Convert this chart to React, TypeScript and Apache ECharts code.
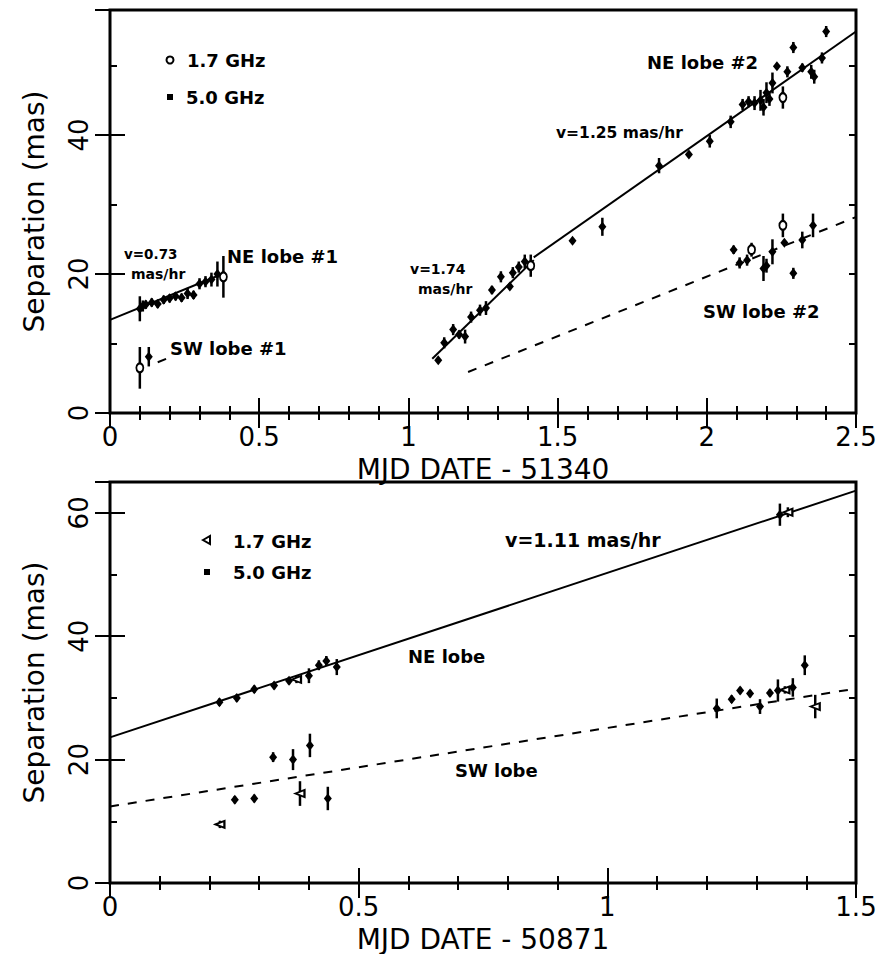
import React, { useEffect, useRef } from "react";
import * as echarts from "echarts";

// ---- Upper panel: days after MJD 51340 ----
// NE lobe #1
const ne1Date = [0.1, 0.11, 0.12, 0.14, 0.16, 0.18, 0.2, 0.22, 0.24, 0.26, 0.28, 0.3, 0.32, 0.34, 0.36, 0.38];
const ne1Sep = [15.0, 15.4, 15.6, 15.9, 15.7, 16.3, 16.5, 16.8, 16.6, 17.2, 17.0, 18.6, 18.9, 19.2, 20.0, 19.6];
const ne1Err = [1.8, 0.8, 0.6, 0.6, 0.6, 0.6, 0.6, 0.6, 0.6, 0.8, 0.6, 0.8, 0.8, 1.0, 1.8, 3.0];
const ne1Band = [5, 5, 5, 5, 5, 5, 5, 5, 5, 5, 5, 5, 5, 5, 5, 1.7];

// SW lobe #1
const sw1Date = [0.1, 0.13];
const sw1Sep = [6.5, 8.1];
const sw1Err = [3.0, 1.4];
const sw1Band = [1.7, 5];

// NE lobe #2
const ne2Date = [
  1.1, 1.12, 1.15, 1.17, 1.19, 1.21, 1.24, 1.26, 1.28, 1.31, 1.34, 1.35, 1.37, 1.39, 1.41,
  1.55, 1.65, 1.84, 1.94, 2.01, 2.08,
  2.12, 2.14, 2.16, 2.18, 2.19, 2.2, 2.21, 2.22, 2.235, 2.255, 2.27, 2.29, 2.32, 2.35, 2.36, 2.386, 2.4,
];
const ne2Sep = [
  7.6, 10.1, 12.0, 11.3, 11.0, 13.8, 14.8, 15.1, 17.7, 19.6, 18.2, 20.2, 21.0, 21.8, 21.2,
  24.8, 26.8, 35.6, 37.2, 39.1, 41.9,
  44.4, 44.8, 44.6, 45.0, 44.0, 46.1, 45.2, 47.5, 49.9, 45.4, 49.1, 52.6, 49.7, 49.1, 48.4, 51.1, 54.9,
];
const ne2Err = [
  0, 0.8, 0.8, 0.6, 1.0, 0.8, 0.8, 1.0, 0.6, 0.8, 0.4, 0.8, 0.8, 1.0, 1.6,
  0, 1.3, 1.1, 0, 0.9, 0.9,
  0.8, 0.8, 1.0, 1.5, 1.2, 1.5, 1.0, 1.5, 0, 1.6, 0.8, 0.8, 0.6, 1.0, 1.0, 0.8, 0.8,
];
const ne2Band = [
  5, 5, 5, 5, 5, 5, 5, 5, 5, 5, 5, 5, 5, 5, 1.7,
  5, 5, 5, 5, 5, 5,
  5, 5, 5, 5, 5, 5, 5, 5, 5, 1.7, 5, 5, 5, 5, 5, 5, 5,
];

// SW lobe #2
const sw2Date = [2.09, 2.11, 2.135, 2.15, 2.19, 2.2, 2.22, 2.255, 2.26, 2.29, 2.32, 2.356];
const sw2Sep = [23.5, 21.6, 22.0, 23.5, 20.8, 21.2, 23.2, 27.0, 24.5, 20.1, 24.9, 27.0];
const sw2Err = [0.6, 0.8, 0.8, 1.0, 1.8, 1.0, 1.8, 1.7, 0, 0.8, 1.2, 1.7];
const sw2Band = [5, 5, 5, 1.7, 5, 5, 5, 1.7, 5, 5, 5, 5];

// Fitted motions, upper panel
const ne1FitDate = [0, 0.37];
const ne1FitSep = [13.4, 19.9];
const sw1FitDate = [0.16, 0.2];
const sw1FitSep = [7.3, 8.0];
const ne2FastFitDate = [1.08, 1.42];
const ne2FastFitSep = [7.8, 22.0];
const ne2SlowFitDate = [1.42, 2.5];
const ne2SlowFitSep = [22.4, 54.9];
const sw2FitDate = [1.2, 2.5];
const sw2FitSep = [5.9, 28.2];

// ---- Lower panel: days after MJD 50871 ----
const neDate = [0.22, 0.255, 0.29, 0.33, 0.36, 0.375, 0.4, 0.42, 0.435, 0.456, 1.347, 1.363];
const neSep = [29.3, 30.0, 31.4, 32.0, 32.8, 33.0, 33.6, 35.3, 36.0, 35.0, 59.7, 60.1];
const neErr = [0.6, 0.6, 0.6, 0.6, 0.6, 0.6, 1.2, 0.8, 0.8, 1.3, 1.8, 0.8];
const neBand = [5, 5, 5, 5, 5, 1.7, 5, 5, 5, 5, 5, 1.7];

const swDate = [
  0.221, 0.251, 0.29, 0.328, 0.368, 0.382, 0.402, 0.438,
  1.22, 1.25, 1.267, 1.287, 1.307, 1.327, 1.343, 1.357, 1.373, 1.397, 1.418,
];
const swSep = [
  9.5, 13.5, 13.7, 20.4, 20.0, 14.5, 22.3, 13.7,
  28.3, 29.8, 31.2, 30.7, 28.6, 30.8, 31.2, 31.3, 31.7, 35.3, 28.6,
];
const swErr = [
  0.6, 0.6, 0.6, 0.8, 1.7, 2.0, 1.9, 1.9,
  1.6, 0.6, 0.6, 0.6, 1.2, 0.6, 1.8, 0.6, 1.5, 1.6, 1.9,
];
const swBand = [
  1.7, 5, 5, 5, 5, 1.7, 5, 5,
  5, 5, 5, 5, 5, 5, 5, 1.7, 5, 5, 1.7,
];

const neFitDate = [0, 1.5];
const neFitSep = [23.6, 63.6];
const swFitDate = [0, 1.5];
const swFitSep = [12.4, 31.5];

// Axis ranges and tick labels
const upperDateTicks = ["0", "0.5", "1", "1.5", "2", "2.5"];
const lowerDateTicks = ["0", "0.5", "1", "1.5"];
const upperSepMax = 58;
const lowerSepMax = 65;

const FONT = "'DejaVu Sans', 'Noto Sans', sans-serif";
const INK = "#000";

type Group = { date: number[]; sep: number[]; err: number[]; band: number[] };

const upperGroups: Group[] = [
  { date: ne1Date, sep: ne1Sep, err: ne1Err, band: ne1Band },
  { date: sw1Date, sep: sw1Sep, err: sw1Err, band: sw1Band },
  { date: ne2Date, sep: ne2Sep, err: ne2Err, band: ne2Band },
  { date: sw2Date, sep: sw2Sep, err: sw2Err, band: sw2Band },
];
const lowerGroups: Group[] = [
  { date: neDate, sep: neSep, err: neErr, band: neBand },
  { date: swDate, sep: swSep, err: swErr, band: swBand },
];

function pointsOf(groups: Group[], band: number) {
  const out: number[][] = [];
  groups.forEach((g) =>
    g.date.forEach((d, i) => {
      if (g.band[i] === band) out.push([d, g.sep[i]]);
    })
  );
  return out;
}

function barsOf(groups: Group[]) {
  const out: number[][] = [];
  groups.forEach((g) =>
    g.date.forEach((d, i) => {
      if (g.err[i] > 0) out.push([d, g.sep[i], g.err[i]]);
    })
  );
  return out;
}

function zip(xs: number[], ys: number[]) {
  return xs.map((x, i) => [x, ys[i]]);
}

const tickLine = { color: INK, width: 2 };

function xMain(gridIndex: number, max: number, name: string, labels: string[]) {
  return {
    type: "value",
    gridIndex,
    position: "bottom",
    min: 0,
    max,
    interval: 0.5,
    axisLine: { show: false },
    splitLine: { show: false },
    axisTick: { inside: true, length: 15, lineStyle: tickLine },
    minorTick: { show: true, splitNumber: 5, length: 7, lineStyle: tickLine },
    axisLabel: {
      margin: 11,
      fontSize: 26,
      color: INK,
      fontFamily: FONT,
      formatter: (v: number) => labels[Math.round(v / 0.5)] ?? "",
    },
    name,
    nameLocation: "middle",
    nameGap: 42,
    nameTextStyle: { fontSize: 28, color: INK, fontFamily: FONT },
  };
}

function xMirror(gridIndex: number, max: number) {
  return {
    type: "value",
    gridIndex,
    position: "top",
    min: 0,
    max,
    interval: 0.5,
    axisLine: { show: false },
    splitLine: { show: false },
    axisTick: { inside: true, length: 15, lineStyle: tickLine },
    minorTick: { show: true, splitNumber: 5, length: 7, lineStyle: tickLine },
    axisLabel: { show: false },
  };
}

function yAxisOf(gridIndex: number, max: number, position: string, major: boolean, labelled: boolean) {
  return {
    type: "value",
    gridIndex,
    position,
    min: 0,
    max,
    interval: major ? 20 : 10,
    axisLine: { show: false },
    splitLine: { show: false },
    axisTick: { inside: true, length: major ? 15 : 7, lineStyle: tickLine },
    axisLabel: labelled
      ? {
          rotate: 90,
          margin: 18,
          fontSize: 26,
          color: INK,
          fontFamily: FONT,
          showMaxLabel: false,
        }
      : { show: false },
    ...(labelled
      ? {
          name: "Separation (mas)",
          nameLocation: "middle",
          nameGap: 62,
          nameTextStyle: { fontSize: 28, color: INK, fontFamily: FONT },
        }
      : {}),
  };
}

function fitLine(xs: number[], ys: number[], dashed: boolean, xi: number, yi: number) {
  return {
    type: "line",
    xAxisIndex: xi,
    yAxisIndex: yi,
    data: zip(xs, ys),
    showSymbol: false,
    symbol: "none",
    silent: true,
    lineStyle: { color: INK, width: 2, type: dashed ? [9, 9] : "solid" },
    z: 2,
  };
}

function errorBars(groups: Group[], xi: number, yi: number) {
  return {
    type: "custom",
    xAxisIndex: xi,
    yAxisIndex: yi,
    data: barsOf(groups),
    silent: true,
    z: 3,
    renderItem: (_params: any, api: any) => {
      const x = api.value(0);
      const y = api.value(1);
      const e = api.value(2);
      const lo = api.coord([x, y - e]);
      const hi = api.coord([x, y + e]);
      return {
        type: "line",
        shape: { x1: lo[0], y1: lo[1], x2: hi[0], y2: hi[1] },
        style: { stroke: INK, lineWidth: 2.5, lineDash: null },
      };
    },
  };
}

function scatterOf(data: number[][], xi: number, yi: number, hollow: boolean, symbol: string, rotate = 0) {
  return {
    type: "scatter",
    xAxisIndex: xi,
    yAxisIndex: yi,
    data,
    symbol,
    symbolRotate: rotate,
    symbolSize: hollow ? [7, 9] : [8, 10],
    silent: true,
    z: 4,
    itemStyle: hollow
      ? { color: "#fff", borderColor: INK, borderWidth: 2, opacity: 1 }
      : { color: INK, borderColor: INK, borderWidth: 0, opacity: 1 },
  };
}

function note(text: string, x: number, y: number, size: number) {
  return {
    type: "text",
    x,
    y,
    silent: true,
    style: {
      text,
      fill: INK,
      font: `bold ${size}px ${FONT}`,
      textAlign: "left",
      textVerticalAlign: "middle",
    },
  };
}

export default function App() {
  const ref = useRef<HTMLDivElement>(null);

  useEffect(() => {
    if (!ref.current) return;
    const chart = echarts.init(ref.current, undefined, { renderer: "svg" });

    const option: any = {
      animation: false,
      backgroundColor: "#fff",
      grid: [
        { left: 110, top: 10, width: 746, height: 403, show: true, borderColor: INK, borderWidth: 3, backgroundColor: "transparent" },
        { left: 110, top: 482, width: 746, height: 405, show: true, borderColor: INK, borderWidth: 3, backgroundColor: "transparent" },
      ],
      xAxis: [
        xMain(0, 2.5, "MJD DATE - 51340", upperDateTicks),
        xMirror(0, 2.5),
        xMain(1, 1.5, "MJD DATE - 50871", lowerDateTicks),
        xMirror(1, 1.5),
      ],
      yAxis: [
        yAxisOf(0, upperSepMax, "left", true, true),
        yAxisOf(0, upperSepMax, "right", true, false),
        yAxisOf(0, upperSepMax, "left", false, false),
        yAxisOf(0, upperSepMax, "right", false, false),
        yAxisOf(1, lowerSepMax, "left", true, true),
        yAxisOf(1, lowerSepMax, "right", true, false),
        yAxisOf(1, lowerSepMax, "left", false, false),
        yAxisOf(1, lowerSepMax, "right", false, false),
      ],
      series: [
        // upper panel
        fitLine(ne1FitDate, ne1FitSep, false, 0, 0),
        fitLine(sw1FitDate, sw1FitSep, true, 0, 0),
        fitLine(ne2FastFitDate, ne2FastFitSep, false, 0, 0),
        fitLine(ne2SlowFitDate, ne2SlowFitSep, false, 0, 0),
        fitLine(sw2FitDate, sw2FitSep, true, 0, 0),
        errorBars(upperGroups, 0, 0),
        scatterOf(pointsOf(upperGroups, 5), 0, 0, false, "diamond"),
        scatterOf(pointsOf(upperGroups, 1.7), 0, 0, true, "circle"),
        // lower panel
        fitLine(neFitDate, neFitSep, false, 2, 4),
        fitLine(swFitDate, swFitSep, true, 2, 4),
        errorBars(lowerGroups, 2, 4),
        scatterOf(pointsOf(lowerGroups, 5), 2, 4, false, "diamond"),
        scatterOf(pointsOf(lowerGroups, 1.7), 2, 4, true, "triangle", 90),
      ],
      graphic: [
        // upper panel key
        { type: "circle", shape: { cx: 170, cy: 60, r: 3.5 }, style: { fill: "#fff", stroke: INK, lineWidth: 2 } },
        note("1.7 GHz", 187, 60, 18),
        { type: "rect", shape: { x: 167, y: 94, width: 6, height: 6 }, style: { fill: INK } },
        note("5.0 GHz", 186, 97, 18),
        note("v=0.73", 124, 254, 13.5),
        note("mas/hr", 131, 274, 14),
        note("NE lobe #1", 227, 256, 18),
        note("SW lobe #1", 170, 348, 18),
        note("v=1.74", 410, 269, 14),
        note("mas/hr", 418, 289, 14),
        note("v=1.25 mas/hr", 556, 133, 15.5),
        note("NE lobe #2", 647, 62, 18),
        note("SW lobe #2", 703, 311, 18),
        // lower panel key
        { type: "polygon", shape: { points: [[203, 540], [210, 536], [210, 544]] }, style: { fill: "#fff", stroke: INK, lineWidth: 2 } },
        note("1.7 GHz", 233, 541, 18),
        { type: "rect", shape: { x: 204, y: 569, width: 6, height: 6 }, style: { fill: INK } },
        note("5.0 GHz", 233, 572, 18),
        note("v=1.11 mas/hr", 505, 540, 19),
        note("NE lobe", 408, 656, 18),
        note("SW lobe", 455, 770, 18),
      ],
    };

    chart.setOption(option);
    return () => chart.dispose();
  }, []);

  return (
    <div
      ref={ref}
      style={{ position: "absolute", left: 0, top: 0, width: 882, height: 954, background: "#fff" }}
    />
  );
}
